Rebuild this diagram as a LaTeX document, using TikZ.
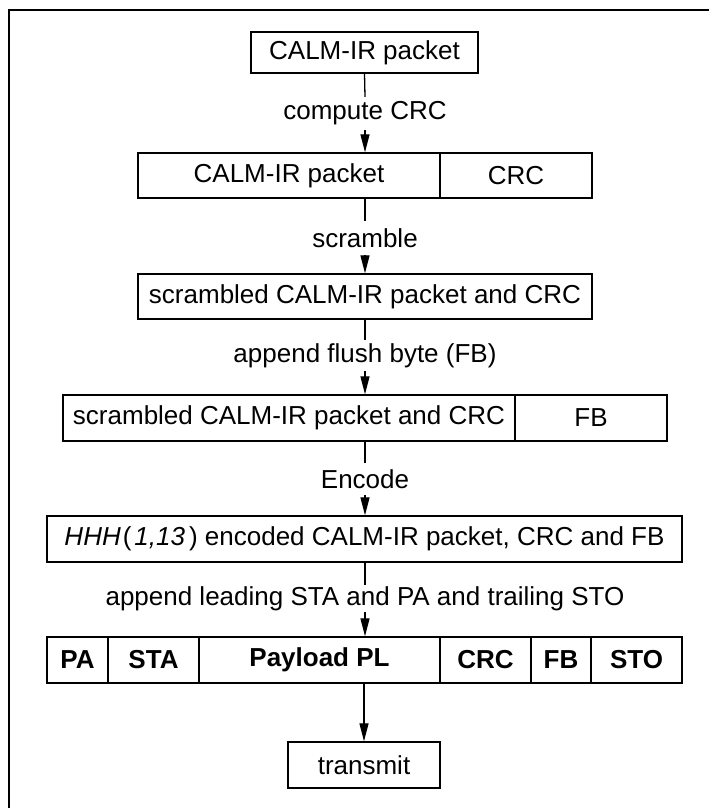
\documentclass[tikz,border=0pt]{standalone}
\usepackage{fontspec}
\setmainfont{Liberation Sans}
\usetikzlibrary{arrows.meta}
\begin{document}
\begin{tikzpicture}[x=1pt,y=-1pt,
  txt/.style={font=\fontsize{26}{31}\selectfont},
  cell/.style={txt, draw, line width=1.4pt, inner sep=0pt},
  bcell/.style={cell, font=\fontsize{26}{31}\selectfont\bfseries},
  lbl/.style={txt, inner sep=0pt},
  conn/.style={line width=1.3pt},
  arr/.style={line width=1.3pt, -{Triangle[length=18pt,width=9pt]}}
]
\useasboundingbox (0,0) rectangle (709,808);
% frame
\coordinate (fa) at (9,808);
\coordinate (fb) at (9,10);
\coordinate (fc) at (709,10);
\draw[line width=2pt] (fa) -- (fb) -- (fc);

% box 1
\node[cell, minimum width=227pt, minimum height=41pt] (b1) at (364.5,52.5) {CALM-IR packet};
\node[lbl, minimum height=33pt] (l1) at (365,113.5) {compute CRC};
% box 2
\node[cell, minimum width=302pt, minimum height=45pt] (b2a) at (289,175.5) {CALM-IR packet};
\node[cell, minimum width=152pt, minimum height=45pt] (b2b) at (516,175.5) {CRC};
\node[lbl, minimum height=34pt] (l2) at (365,238) {scramble};
% box 3
\node[cell, minimum width=454pt, minimum height=45pt] (b3) at (365,296.5) {scrambled CALM-IR packet and CRC};
\node[lbl, minimum height=31pt] (l3) at (365,355.5) {append flush byte (FB)};
% box 4
\node[cell, minimum width=452pt, minimum height=46pt] (b4a) at (289,418) {scrambled CALM-IR packet and CRC};
\node[cell, minimum width=152pt, minimum height=46pt] (b4b) at (591,418) {FB};
\node[lbl, minimum height=32pt] (l4) at (365,479) {Encode};
% box 5
\node[cell, minimum width=635pt, minimum height=46pt] (b5) at (364.5,539) {\textit{HHH}\hspace{2pt}(\hspace{3pt}\textit{1,13}\hspace{4pt}) encoded CALM-IR packet, CRC and FB};
\node[lbl, minimum height=27pt] (l5) at (365,598.5) {append leading STA and PA and trailing STO};
% box 6
\node[bcell, minimum width=61pt, minimum height=46pt] (c1) at (77.5,660) {PA};
\node[bcell, minimum width=91pt, minimum height=46pt] (c2) at (153.5,660) {STA};
\node[bcell, minimum width=241pt, minimum height=46pt] (c3) at (319.5,660) {Payload PL};
\node[bcell, minimum width=91pt, minimum height=46pt] (c4) at (485.5,660) {CRC};
\node[bcell, minimum width=60pt, minimum height=46pt] (c5) at (561,660) {FB};
\node[bcell, minimum width=91pt, minimum height=46pt] (c6) at (636.5,660) {STO};
% transmit
\node[cell, minimum width=152pt, minimum height=46pt] (tx) at (364,765) {transmit};

% connectors
\draw[conn] (b1.south) -- (l1.north);
\draw[arr] (l1.south) -- (l1.south |- b2a.north);
\draw[conn] (l2.north |- b2a.south) -- (l2.north);
\draw[arr] (l2.south) -- (b3.north);
\draw[conn] (b3.south) -- (l3.north);
\draw[arr] (l3.south) -- (l3.south |- b4a.north);
\draw[conn] (l4.north |- b4a.south) -- (l4.north);
\draw[arr] (l4.south) -- (l4.south |- b5.north);
\draw[conn] (l5.north |- b5.south) -- (l5.north);
\draw[arr] (l5.south) -- (l5.south |- c3.north);
\draw[arr] (tx.north |- c3.south) -- (tx.north);
\end{tikzpicture}
\end{document}
